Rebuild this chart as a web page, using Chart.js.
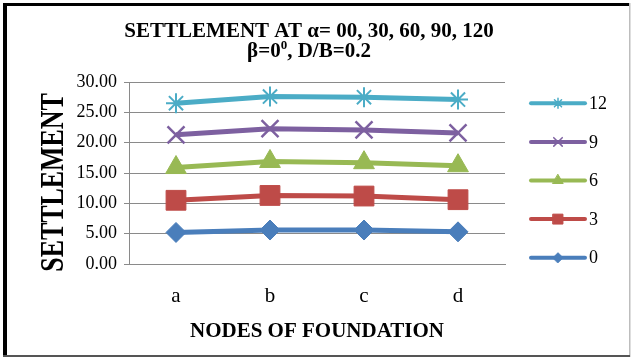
<!DOCTYPE html>
<html>
<head>
<meta charset="utf-8">
<script src="https://cdn.jsdelivr.net/npm/chart.js@4/dist/chart.umd.min.js"></script>
<style>
  html, body { margin: 0; padding: 0; background: #fff; }
  canvas { display: block; }
</style>
</head>
<body>
<canvas id="chart" width="631" height="358"></canvas>
<script>
// Settlement at each foundation node, one series per angle
const nodes = ['a', 'b', 'c', 'd'];
const seriesNames = ['0', '3', '6', '9', '12'];
const settle0 = [5.2, 5.6, 5.6, 5.3];
const settle3 = [10.5, 11.3, 11.2, 10.6];
const settle6 = [15.9, 16.9, 16.7, 16.2];
const settle9 = [21.3, 22.3, 22.1, 21.6];
const settle12 = [26.5, 27.6, 27.5, 27.1];
const yMin = 0, yMax = 30, yStep = 5;
const titleLine1 = 'SETTLEMENT AT α= 00, 30, 60, 90, 120';
const titleLine2 = [['β=0', false], ['0', true], [', D/B=0.2', false]];
const xTitle = 'NODES OF FOUNDATION';
const yTitle = 'SETTLEMENT';

const SERIF = '"Liberation Serif", "Times New Roman", serif';
const GRID = '#8a8a8a';

const styles = [
  { color: '#4A7EBB', point: 'rectRot',   r: 10, lr: 5,   bw: 1 },
  { color: '#BE4B48', point: 'rect',      r: 14, lr: 7,   bw: 1 },
  { color: '#98B954', point: 'triangle',  r: 12, lr: 6,   bw: 1 },
  { color: '#7D60A0', point: 'crossRot',  r: 12, lr: 6,   bw: 2.5 },
  { color: '#4BACC6', point: 'star',      r: 10, lr: 5,   bw: 2 }
];
const values = [settle0, settle3, settle6, settle9, settle12];

const datasets = values.map((v, i) => ({
  label: seriesNames[i],
  data: v,
  borderColor: styles[i].color,
  backgroundColor: styles[i].color,
  borderWidth: 5,
  pointStyle: styles[i].point,
  pointRadius: styles[i].r,
  pointHoverRadius: styles[i].r,
  pointBackgroundColor: styles[i].color,
  pointBorderColor: styles[i].color,
  pointBorderWidth: styles[i].bw,
  tension: 0,
  fill: false
}));

const PAD = { left: 8, right: 126, top: 82, bottom: 10 };
const AREA_LEFT = 129, AREA_BOTTOM = 264;

// Frame, titles and the legend drawn around the plot
const decorations = {
  id: 'decorations',
  beforeDraw(chart) {
    const ctx = chart.ctx;
    ctx.save();
    ctx.fillStyle = '#fff';
    ctx.fillRect(0, 0, chart.width, chart.height);
    ctx.restore();
  },
  afterDraw(chart) {
    const ctx = chart.ctx;
    ctx.save();

    // frame
    ctx.fillStyle = '#000';
    ctx.fillRect(3, 3, 627, 3);
    ctx.fillRect(3, 3, 4, 354);
    ctx.fillStyle = '#bdbdbd';
    ctx.fillRect(629, 3, 1.5, 354);
    ctx.fillStyle = '#555';
    ctx.fillRect(3, 355, 627, 2);

    // chart title
    ctx.fillStyle = '#000';
    ctx.textBaseline = 'alphabetic';
    ctx.textAlign = 'center';
    ctx.font = 'bold 21px ' + SERIF;
    ctx.fillText(titleLine1, 309, 37);

    const mainFont = 'bold 21px ' + SERIF, supFont = 'bold 13px ' + SERIF;
    let total = 0;
    titleLine2.forEach(([t, sup]) => { ctx.font = sup ? supFont : mainFont; total += ctx.measureText(t).width; });
    let x = 309 - total / 2;
    ctx.textAlign = 'left';
    titleLine2.forEach(([t, sup]) => {
      ctx.font = sup ? supFont : mainFont;
      ctx.fillText(t, x, sup ? 49 : 57);
      x += ctx.measureText(t).width;
    });

    // axis titles
    ctx.textAlign = 'center';
    ctx.font = 'bold 21px ' + SERIF;
    ctx.fillText(xTitle, (chart.chartArea.left + chart.chartArea.right) / 2, 337);

    ctx.save();
    ctx.translate(63, 182.5);
    ctx.rotate(-Math.PI / 2);
    ctx.scale(0.785, 1);
    ctx.font = 'bold 33px ' + SERIF;
    ctx.fillText(yTitle, 0, 0);
    ctx.restore();

    // legend, highest series on top
    const rowTop = 103.3, rowGap = 38.6;
    chart.data.datasets.slice().reverse().forEach((ds, k) => {
      const st = styles[chart.data.datasets.length - 1 - k];
      const y = rowTop + k * rowGap;
      ctx.strokeStyle = ds.borderColor;
      ctx.lineWidth = 4;
      ctx.lineCap = 'round';
      ctx.beginPath();
      ctx.moveTo(531, y);
      ctx.lineTo(585, y);
      ctx.stroke();
      ctx.fillStyle = ds.borderColor;
      ctx.lineWidth = st.bw > 1 ? 1.5 : 1;
      Chart.helpers.drawPoint(ctx, { pointStyle: st.point, radius: st.lr, borderWidth: ctx.lineWidth, rotation: 0 }, 558, y);
      ctx.fillStyle = '#000';
      ctx.font = '18px ' + SERIF;
      ctx.textAlign = 'left';
      ctx.textBaseline = 'middle';
      ctx.fillText(ds.label, 589, y + 1);
    });

    ctx.restore();
  }
};

new Chart(document.getElementById('chart'), {
  type: 'line',
  data: { labels: nodes, datasets },
  options: {
    responsive: false,
    animation: false,
    events: [],
    layout: { padding: PAD },
    plugins: { legend: { display: false }, title: { display: false }, tooltip: { enabled: false } },
    scales: {
      x: {
        offset: true,
        grid: { display: false, drawTicks: false },
        border: { display: true, color: GRID, width: 1 },
        ticks: { color: '#000', font: { family: SERIF, size: 21 }, padding: 20 },
        afterFit(scale) { scale.height = 358 - PAD.bottom - AREA_BOTTOM; }
      },
      y: {
        min: yMin,
        max: yMax,
        ticks: {
          stepSize: yStep,
          color: '#000',
          font: { family: SERIF, size: 18 },
          padding: 7,
          callback: v => Number(v).toFixed(2)
        },
        grid: { color: GRID, lineWidth: 1, tickLength: 5, tickColor: GRID },
        border: { display: true, color: GRID, width: 1 },
        afterFit(scale) { scale.width = AREA_LEFT - PAD.left; }
      }
    }
  },
  plugins: [decorations]
});
</script>
</body>
</html>
